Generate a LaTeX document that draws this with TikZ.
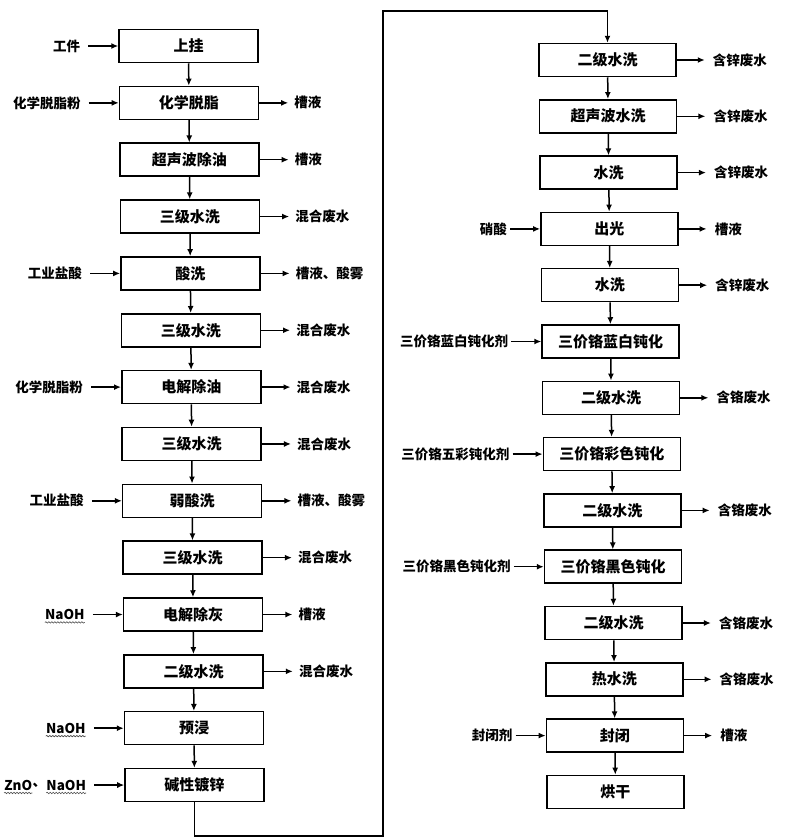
\documentclass[tikz,border=0pt]{standalone}
\usepackage{fontspec}
\setmainfont{Noto Sans CJK SC}
\usetikzlibrary{arrows.meta,positioning,decorations.pathmorphing}
\begin{document}
\begin{tikzpicture}[x=1pt,y=-1pt,
  proc/.style={draw, line width=1.5pt, minimum width=139pt, minimum height=33pt,
    font=\fontsize{15}{15}\selectfont\bfseries, inner sep=0pt},
  lbl/.style={font=\fontsize{13.5}{14}\selectfont\bfseries, inner sep=0pt},
  flow/.style={line width=1.5pt, -{Latex[length=7pt,width=6pt]}},
  lin/.style={flow, shorten <=8pt},
  rin/.style={flow, shorten <=3pt},
  lout/.style={flow, shorten >=6pt},
  rout/.style={flow, shorten >=8pt},
  wavy/.style={draw=black!70, line width=0.6pt, decorate,
    decoration={snake, segment length=3pt, amplitude=0.7pt}},
]
\useasboundingbox (0,0) rectangle (787,839);
% left column
\foreach \i/\t in {0/上挂,1/化学脱脂,2/超声波除油,3/三级水洗,4/酸洗,5/三级水洗,6/电解除油,
  7/三级水洗,8/弱酸洗,9/三级水洗,10/电解除灰,11/二级水洗,12/预浸,13/碱性镀锌}{
  \pgfmathsetmacro\cy{46+\i*56.85}
  \pgfmathsetmacro\cx{188.5+(\cy-46)*0.0081}
  \node[proc] (L\i) at (\cx,\cy) {\t};
}
% right column
\foreach \i/\t in {0/二级水洗,1/超声波水洗,2/水洗,3/出光,4/水洗,5/三价铬蓝白钝化,6/二级水洗,
  7/三价铬彩色钝化,8/二级水洗,9/三价铬黑色钝化,10/二级水洗,11/热水洗,12/封闭,13/烘干}{
  \pgfmathsetmacro\cy{60+\i*56.3}
  \pgfmathsetmacro\cx{607.5+(\cy-60)*0.0109}
  \node[proc, minimum width=137pt] (R\i) at (\cx,\cy) {\t};
}
% vertical flow
\foreach \i [evaluate=\i as \j using int(\i+1)] in {0,...,12}{
  \draw[flow] (L\i) -- (L\j);
  \draw[flow] (R\i) -- (R\j);
}
% loop connector
\coordinate (c1) at (383,836);
\coordinate (c2) at (383,11);
\draw[flow] (L13.south) |- (c1) -- (c2) -| (R0.north);

% left inputs
\foreach \i/\t in {0/工件,1/化学脱脂粉,4/工业盐酸,6/化学脱脂粉,8/工业盐酸,10/NaOH,12/NaOH,13/NaOH}{
  \node[lbl, left=38pt of L\i] (Li\i) {\t};
  \draw[lin] (Li\i) -- (L\i);
}
\node[lbl, left=0pt of Li13] (dun) {、};
\node[lbl, left=0pt of dun] (zno) {ZnO};
\foreach \n in {Li10,Li12,Li13,zno}{
  \path[wavy] ([yshift=-2.5pt]\n.south west) -- ([yshift=-2.5pt]\n.south east);
}
% left outputs
\foreach \i/\t in {1/槽液,2/槽液,3/混合废水,4/槽液、酸雾,5/混合废水,6/混合废水,7/混合废水,
  8/槽液、酸雾,9/混合废水,10/槽液,11/混合废水}{
  \node[lbl, right=35pt of L\i] (Lo\i) {\t};
  \draw[lout] (L\i) -- (Lo\i);
}
% right inputs
\foreach \i/\t in {3/硝酸,5/三价铬蓝白钝化剂,7/三价铬五彩钝化剂,9/三价铬黑色钝化剂,12/封闭剂}{
  \node[lbl, left=33pt of R\i] (Ri\i) {\t};
  \draw[rin] (Ri\i) -- (R\i);
}
% right outputs
\foreach \i/\t in {0/含锌废水,1/含锌废水,2/含锌废水,3/槽液,4/含锌废水,6/含铬废水,8/含铬废水,
  10/含铬废水,11/含铬废水,12/槽液}{
  \node[lbl, right=36pt of R\i] (Ro\i) {\t};
  \draw[rout] (R\i) -- (Ro\i);
}
\end{tikzpicture}
\end{document}
